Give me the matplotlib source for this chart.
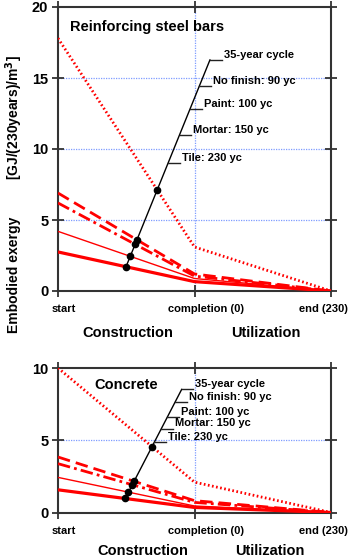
import matplotlib
matplotlib.use("Agg")
import matplotlib.pyplot as plt
import matplotlib.transforms as mtransforms
import numpy as np

plt.rcParams['font.family'] = ['Liberation Sans', 'DejaVu Sans']
plt.rcParams['font.weight'] = 'bold'
plt.rcParams['mathtext.default'] = 'bf'

# ---------------- data ----------------
stages = [0, 1, 2]                       # start, completion, end
stage_labels = ["start", "completion (0)", "end (230)"]
cycle_labels = ["35-year cycle", "No finish: 90 yc", "Paint: 100 yc",
                "Mortar: 150 yc", "Tile: 230 yc"]

# Reinforcing steel bars (values at start, completion, end)
steel_35 = [17.8, 3.1, 0.0]
steel_90 = [6.9, 1.2, 0.0]
steel_100 = [6.2, 1.05, 0.0]
steel_150 = [4.2, 0.88, 0.0]
steel_230 = [2.75, 0.66, 0.0]
steel_guide = [(0.498, 1.7), (1.113, 16.27)]       # black guide line ends
steel_label_y = [16.27, 14.46, 12.8, 11.0, 9.04]

# Concrete
conc_35 = [10.0, 2.1, 0.0]
conc_90 = [3.84, 0.82, 0.0]
conc_100 = [3.38, 0.7, 0.0]
conc_150 = [2.43, 0.45, 0.0]
conc_230 = [1.57, 0.35, 0.0]
conc_guide = [(0.49, 0.93), (0.906, 8.52)]
conc_label_y = [8.52, 7.66, 6.62, 5.81, 4.88]

styles = [
    dict(ls=(0, (0.6, 0.9)), lw=2.0),
    dict(ls=(0, (4.5, 2.2)), lw=2.0),
    dict(ls=(0, (4.5, 1.5, 1.0, 1.5)), lw=2.0),
    dict(ls='-', lw=1.0),
    dict(ls='-', lw=2.3),
]

RED = '#ff0000'
GRID = '#7f9cff'
SPINE = '#333333'

fig = plt.figure(figsize=(3.5, 5.6), dpi=100)
ax1 = fig.add_axes([58 / 350, 1 - 291 / 560, 273 / 350, 284 / 560])
ax2 = fig.add_axes([58 / 350, 1 - 512.5 / 560, 273 / 350, 144.5 / 560])


def draw(ax, series, guide, label_y, ymax, yticks, grid_y, title, title_xy,
         xoffs, seg_len, lab_xy):
    # grid
    for gy in grid_y:
        ax.axhline(gy, color=GRID, ls=(0, (1, 1)), lw=0.9, zorder=0)
    ax.axvline(1, color=GRID, ls=(0, (1, 1)), lw=0.9, zorder=0)

    for vals, st in zip(series, styles):
        ax.plot(stages, vals, color=RED, ls=st['ls'], lw=st['lw'],
                solid_capstyle='butt', zorder=3)

    # black guide line and intersection points
    (gx0, gy0), (gx1, gy1) = guide
    slope = (gy1 - gy0) / (gx1 - gx0)
    ax.plot([gx0, gx1], [gy0, gy1], color='black', lw=1.0, zorder=4)
    px, py = [], []
    for vals in series:
        s = (vals[1] - vals[0])
        # solve vals[0] + s x = gy0 + slope (x - gx0)
        x = (vals[0] - gy0 + slope * gx0) / (slope - s)
        px.append(x)
        py.append(vals[0] + s * x)
    ax.plot(px, py, 'o', color='black', ms=4.5, zorder=5)

    # labels with leader segments
    for lab, ly in zip(cycle_labels, label_y):
        lx = gx0 + (ly - gy0) / slope
        ax.plot([lx, lx + seg_len], [ly, ly], color='#222222', lw=1.0,
                zorder=4)
        ax.annotate(lab, (lx + seg_len, ly), xytext=(1.5, 1.5),
                    textcoords='offset points', ha='left', va='baseline',
                    fontsize=8, fontweight='bold', zorder=6)

    ax.text(title_xy[0], title_xy[1], title, fontsize=10.5, fontweight='bold',
            ha='left', va='center')

    ax.set_xlim(0, 2)
    ax.set_ylim(0, ymax)
    ax.set_yticks(yticks)
    ax.set_yticklabels([str(v) for v in yticks], fontsize=10.5,
                       fontweight='bold')
    ax.set_xticks(stages)
    ax.set_xticklabels(stage_labels, fontsize=8, fontweight='bold')
    ax.tick_params(axis='both', which='both', direction='inout', length=9,
                   width=1.3, color=SPINE, top=True, right=True)
    ax.tick_params(axis='y', pad=2.5)
    ax.tick_params(axis='x', pad=5)
    for sp in ax.spines.values():
        sp.set_color(SPINE)
        sp.set_linewidth(1.5)
    for lbl, dx in zip(ax.get_xticklabels(), xoffs):
        lbl.set_transform(lbl.get_transform() +
                          mtransforms.ScaledTranslation(dx / 100, 0,
                                                        fig.dpi_scale_trans))
    # phase labels
    for txt, (xx, yy) in zip(["Construction", "Utilization"], lab_xy):
        fig.text(xx / 350, 1 - yy / 560, txt, fontsize=10.5,
                 fontweight='bold', ha='center', va='center')


draw(ax1, [steel_35, steel_90, steel_100, steel_150, steel_230],
     steel_guide, steel_label_y, 20, [0, 5, 10, 15, 20], [5, 10, 15],
     "Reinforcing steel bars", (0.088, 18.6), [6, 11, -8], 0.085,
     [(128, 333), (266, 333)])
draw(ax2, [conc_35, conc_90, conc_100, conc_150, conc_230],
     conc_guide, conc_label_y, 10, [0, 5, 10], [5],
     "Concrete", (0.27, 8.85), [6, 11, -8], 0.085,
     [(142.5, 551), (270, 551)])

fig.text(14 / 350, 1 - 275 / 560, "Embodied exergy", rotation=90,
         fontsize=10, fontweight='bold', ha='center', va='center')
fig.text(14 / 350, 1 - 118 / 560, r"[GJ/(230years)/m$^{\mathbf{3}}$]",
         rotation=90, fontsize=10, fontweight='bold', ha='center',
         va='center')

fig.savefig("out.png", dpi=100)
